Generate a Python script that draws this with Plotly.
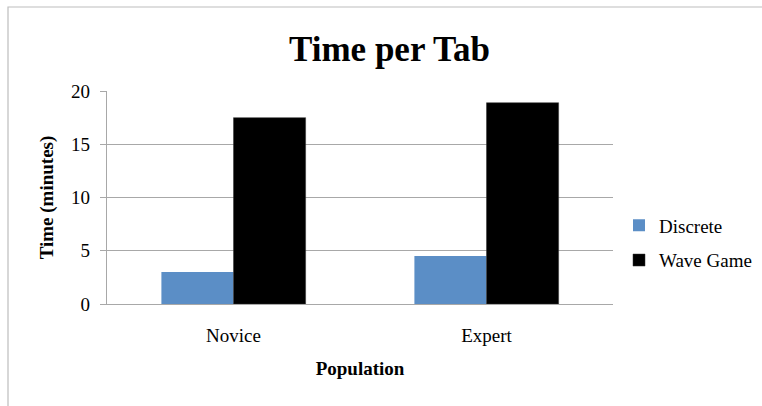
import plotly.graph_objects as go

# Average time spent per tab, by population group
populations = ["Novice", "Expert"]
discrete_minutes = [3.0, 4.5]
wave_game_minutes = [17.5, 18.9]
y_ticks = [0, 5, 10, 15, 20]

W, H = 762, 406
ML, MR, MT, MB = 107, 149, 91, 102
PW, PH = W - ML - MR, H - MT - MB

serif = "Liberation Serif, Times New Roman, serif"
grid_gray = "#A8A8A8"

fig = go.Figure()
fig.add_trace(go.Bar(
    name="Discrete", x=populations, y=discrete_minutes,
    marker=dict(color="#5B8EC6", line=dict(width=0)),
    legendgroup="a",
))
fig.add_trace(go.Bar(
    name="Wave Game", x=populations, y=wave_game_minutes,
    marker=dict(color="#000000", line=dict(color="#333333", width=0.5)),
    legendgroup="b",
))


def px_x(p):
    return (p - ML) / PW


def px_y(p):
    return (H - MB - p) / PH


# light outer frame around the chart area
fig.add_shape(
    type="rect", xref="paper", yref="paper",
    x0=px_x(8), x1=px_x(775), y0=px_y(7), y1=px_y(420),
    line=dict(color="#BDBDBD", width=1.2), fillcolor="rgba(0,0,0,0)",
    layer="below",
)

fig.update_layout(
    width=W, height=H,
    margin=dict(l=ML, r=MR, t=MT, b=MB, autoexpand=False),
    paper_bgcolor="white", plot_bgcolor="white",
    barmode="group", bargap=0.43, bargroupgap=0,
    font=dict(family=serif, size=19, color="#000000"),
    title=dict(
        text="<b>Time per Tab</b>",
        font=dict(family=serif, size=35, color="#000000"),
        x=389.5 / W, xanchor="center", xref="container",
        y=1 - 49 / H, yanchor="middle", yref="container",
    ),
    legend=dict(
        x=px_x(619), xanchor="left",
        y=px_y(243), yanchor="middle",
        font=dict(family=serif, size=19),
        tracegroupgap=7,
        bgcolor="rgba(0,0,0,0)",
    ),
    xaxis=dict(
        showline=True, linecolor=grid_gray, linewidth=1.2,
        ticks="", showgrid=False,
        tickfont=dict(family=serif, size=19),
        ticklabelstandoff=14,
        title=dict(text="<b>Population</b>",
                   font=dict(family=serif, size=19), standoff=16),
    ),
    yaxis=dict(
        range=[0, 20], tickvals=y_ticks,
        showline=True, linecolor=grid_gray, linewidth=1.2,
        ticks="outside", ticklen=6, tickcolor=grid_gray, tickwidth=1.2,
        showgrid=True, gridcolor=grid_gray, gridwidth=1.2,
        zeroline=False,
        tickfont=dict(family=serif, size=19),
        ticklabelstandoff=6,
        title=dict(text="<b>Time (minutes)</b>",
                   font=dict(family=serif, size=19), standoff=12),
    ),
)

fig.write_html("out.html")
